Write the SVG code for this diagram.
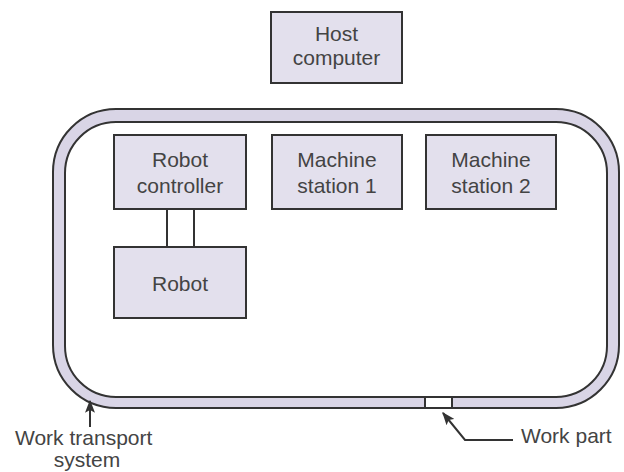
<svg xmlns="http://www.w3.org/2000/svg" width="624" height="472" viewBox="0 0 624 472">
  <style>
    .box { fill: #e3e0ed; stroke: #333; stroke-width: 2; }
    .lbl { font-family: "Liberation Sans", Arial, sans-serif; font-size: 21px; fill: #444; text-anchor: middle; }
    .note { font-family: "Liberation Sans", Arial, sans-serif; font-size: 21px; fill: #444; }
    .wire { fill: none; stroke: #333; stroke-width: 2; }
  </style>
  <defs>
    <marker id="head" viewBox="0 0 10 10" refX="9" refY="5" markerWidth="13" markerHeight="10" orient="auto" markerUnits="userSpaceOnUse" preserveAspectRatio="none">
      <path d="M0,0 L10,5 L0,10 L2,5 z" fill="#333"/>
    </marker>
  </defs>
  <rect width="624" height="472" fill="#ffffff"/>

  <!-- transport loop -->
  <g id="transport">
    <rect x="53" y="109" width="566" height="299" rx="63" ry="63" fill="#d9d5e6" stroke="#333" stroke-width="2"/>
    <rect x="65" y="122" width="542" height="275" rx="51" ry="51" fill="#ffffff" stroke="#333" stroke-width="2"/>
  </g>

  <!-- work part in the loop -->
  <g id="work-part">
    <rect x="425" y="397" width="27" height="11" fill="#ffffff" stroke="#333" stroke-width="2"/>
  </g>

  <g id="host">
    <rect class="box" x="271" y="12" width="131" height="71"/>
    <text class="lbl" x="336.5" y="41">Host</text>
    <text class="lbl" x="336.5" y="65">computer</text>
  </g>

  <g id="robot-controller">
    <rect class="box" x="114" y="135" width="132" height="74"/>
    <text class="lbl" x="180" y="167">Robot</text>
    <text class="lbl" x="180" y="193">controller</text>
  </g>

  <g id="machine-1">
    <rect class="box" x="272" y="135" width="130" height="74"/>
    <text class="lbl" x="337" y="167">Machine</text>
    <text class="lbl" x="337" y="193">station 1</text>
  </g>

  <g id="machine-2">
    <rect class="box" x="426" y="135" width="130" height="74"/>
    <text class="lbl" x="491" y="167">Machine</text>
    <text class="lbl" x="491" y="193">station 2</text>
  </g>

  <g id="robot">
    <rect class="box" x="114" y="247" width="132" height="71"/>
    <text class="lbl" x="180" y="291">Robot</text>
  </g>

  <g id="connectors">
    <line class="wire" x1="167" y1="209" x2="167" y2="247"/>
    <line class="wire" x1="194" y1="209" x2="194" y2="247"/>
    <path class="wire" d="M90,427 L90,401" marker-end="url(#head)"/>
    <path class="wire" d="M513,440 L465,440 L443,413" marker-end="url(#head)"/>
  </g>

  <g id="labels">
    <text class="note" x="15" y="445">Work transport</text>
    <text class="note" x="87" y="467" text-anchor="middle">system</text>
    <text class="note" x="521" y="443">Work part</text>
  </g>
</svg>
